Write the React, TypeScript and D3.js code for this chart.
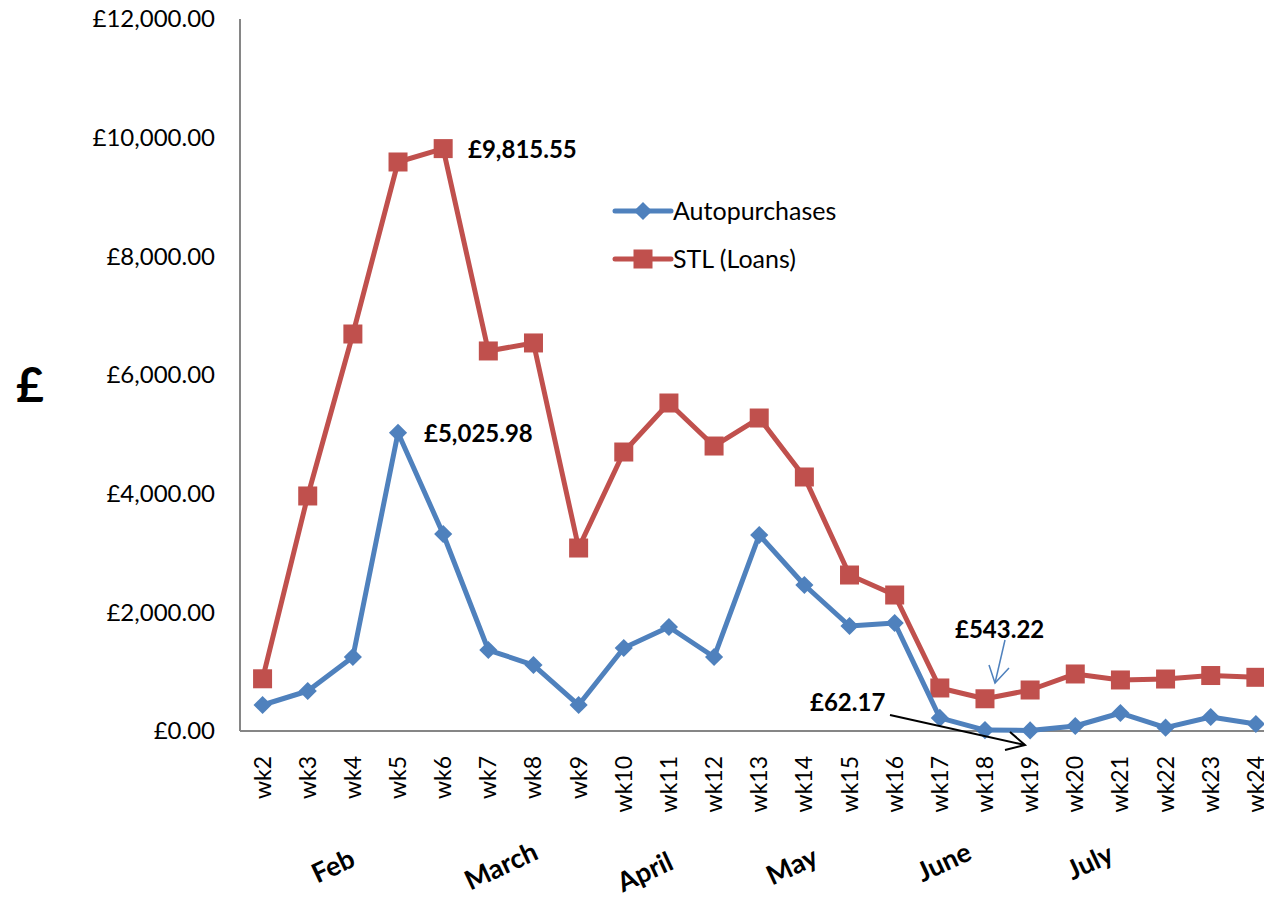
import React from "react";
import * as d3 from "d3";

const weeks = ["wk2","wk3","wk4","wk5","wk6","wk7","wk8","wk9","wk10","wk11","wk12","wk13","wk14","wk15","wk16","wk17","wk18","wk19","wk20","wk21","wk22","wk23","wk24"];
const autopurchases = [438,674,1247,5025.98,3320,1365,1112,438,1399,1753,1247,3303,2461,1770,1820,220,15,10,84,303,56,236,118];
const stlLoans = [880,3961,6691,9590,9815.55,6405,6540,3084,4702,5528,4803,5275,4281,2629,2292,725,543.22,691,961,860,876,935,905];
const yTicks = [0,2000,4000,6000,8000,10000,12000];
const months = ["Feb","March","April","May","June","July"];
const monthX = [333,501,645,792,944,1090];
const monthY = [866,866,872,866,862,862];

const BLUE = "#4F81BD";
const RED = "#C0504D";
const FONT = "Lato, 'Open Sans', sans-serif";

export default function App() {
  const left = 240, top = 19, bottom = 731;
  const step = 45.15;
  const x = d3.scaleBand<string>().domain(weeks).range([left, left + step * weeks.length]).padding(0);
  const cx = (w: string) => (x(w) as number) + x.bandwidth() / 2;
  const y = d3.scaleLinear().domain([0, 12000]).range([bottom, top]);
  const fmt = (v: number) => "£" + d3.format(",.2f")(v);
  const line = d3.line<number>().x((_, i) => cx(weeks[i])).y((d) => y(d));
  const diamond = d3.symbol().type(d3.symbolDiamond2).size(210)();

  return (
    <svg width={1264} height={901} style={{ position: "absolute", left: 0, top: 0, background: "#fff" }} fontFamily={FONT}>
      {/* axes */}
      <line x1={left} x2={left} y1={top} y2={bottom} stroke="#868686" strokeWidth={2} />
      <line x1={left} x2={1264} y1={bottom} y2={bottom} stroke="#868686" strokeWidth={2} />
      {yTicks.map((t) => (
        <text key={t} x={215} y={y(t)} dy="0.35em" textAnchor="end" fontSize={24} fill="#000">{fmt(t)}</text>
      ))}
      {weeks.map((w) => (
        <text key={w} transform={`translate(${cx(w) + 8},756) rotate(-90)`} textAnchor="end" fontSize={23} fill="#000">{w}</text>
      ))}
      {months.map((m, i) => (
        <text key={m} transform={`translate(${monthX[i]},${monthY[i]}) rotate(-25)`} textAnchor="middle" dy="0.35em" fontSize={27} fontWeight="bold" fill="#000">{m}</text>
      ))}
      <text x={30} y={385} textAnchor="middle" dy="0.35em" fontSize={48} fontWeight="bold">£</text>

      {/* series */}
      <path d={line(stlLoans) || ""} fill="none" stroke={RED} strokeWidth={5} strokeLinejoin="round" />
      {stlLoans.map((v, i) => (
        <rect key={i} x={cx(weeks[i]) - 9.5} y={y(v) - 9.5} width={19} height={19} fill={RED} />
      ))}
      <path d={line(autopurchases) || ""} fill="none" stroke={BLUE} strokeWidth={5} strokeLinejoin="round" />
      {autopurchases.map((v, i) => (
        <path key={i} d={diamond || ""} transform={`translate(${cx(weeks[i])},${y(v)})`} fill={BLUE} />
      ))}

      {/* legend */}
      <line x1={615} x2={671} y1={211} y2={211} stroke={BLUE} strokeWidth={5} strokeLinecap="round" />
      <path d={diamond || ""} transform="translate(643,211)" fill={BLUE} />
      <text x={673} y={211} dy="0.35em" fontSize={25}>Autopurchases</text>
      <line x1={615} x2={671} y1={259} y2={259} stroke={RED} strokeWidth={5} strokeLinecap="round" />
      <rect x={633.5} y={249.5} width={19} height={19} fill={RED} />
      <text x={673} y={259} dy="0.35em" fontSize={25}>STL (Loans)</text>

      {/* annotations */}
      <text x={468} y={150} dy="0.35em" fontSize={24} fontWeight="bold">{fmt(stlLoans[4])}</text>
      <text x={424} y={434} dy="0.35em" fontSize={24} fontWeight="bold">{fmt(autopurchases[3])}</text>
      <text x={955} y={630} dy="0.35em" fontSize={24} fontWeight="bold">{fmt(stlLoans[16])}</text>
      <text x={810} y={703} dy="0.35em" fontSize={24} fontWeight="bold">£62.17</text>
      <line x1={1005} y1={640} x2={995} y2={683} stroke={BLUE} strokeWidth={1.5} />
      <polyline points="989,665 995,683 1009,668" fill="none" stroke={BLUE} strokeWidth={1.5} />
      <line x1={890} y1={715} x2={1025} y2={745} stroke="#000" strokeWidth={2} />
      <polyline points="1010,732 1025,745 1005,750" fill="none" stroke="#000" strokeWidth={2} />
    </svg>
  );
}
